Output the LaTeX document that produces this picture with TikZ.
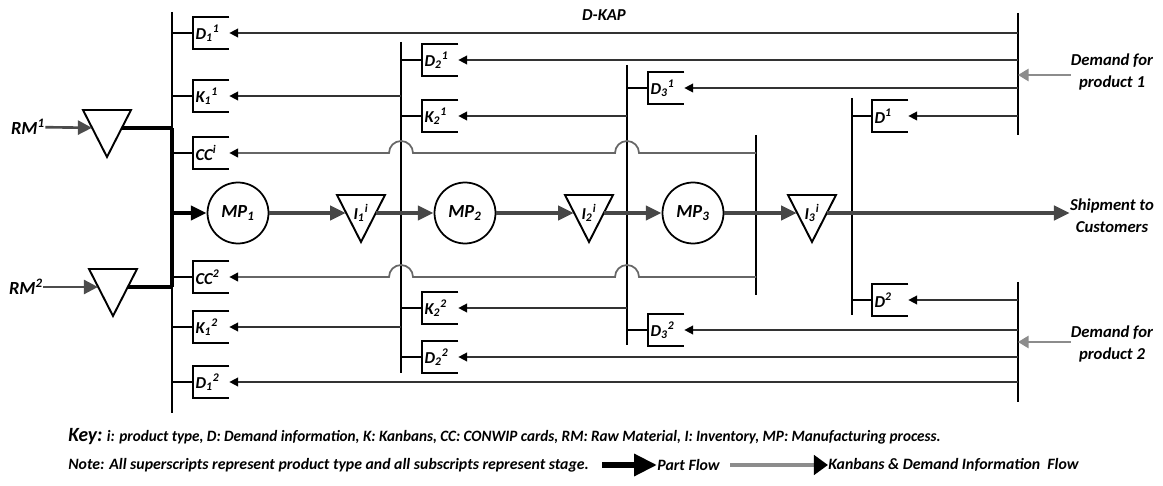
\documentclass[tikz,border=0pt]{standalone}
\usepackage{fontspec}
\usepackage{graphicx}
\setmainfont{Carlito}
\usetikzlibrary{arrows.meta,calc}

\newcommand{\lb}[3]{#1\textsubscript{#2}\textsuperscript{#3}}

\begin{document}
\begin{tikzpicture}[x=0.02cm,y=-0.02cm,
    every node/.style={font=\fontsize{9.5}{12.5}\selectfont\bfseries\itshape,inner sep=0pt},
    card/.style={minimum height=0.64cm,text width=0.62cm,inner xsep=0.05cm,align=left,font=\fontsize{9.5}{10}\selectfont\bfseries\itshape},
    cardline/.style={line width=1.1pt},
    proc/.style={draw,circle,minimum size=1.22cm,line width=1pt,font=\fontsize{10.5}{11}\selectfont\bfseries\itshape},
    tri/.style={minimum width=0.59cm,minimum height=0.4cm,font=\fontsize{9.5}{10}\selectfont\bfseries\itshape},
    trishape/.style={line width=1.1pt,line join=miter},
    bus/.style={line width=1pt},
    thickbus/.style={line width=2pt},
    info/.style={line width=0.8pt,black!80,-{Triangle[length=5pt,width=5pt,color=black]}},
    ccinfo/.style={line width=1pt,black!60,-{Triangle[length=5pt,width=5pt,color=black]}},
    grayarr/.style={line width=1pt,black!45,-{Triangle[length=6pt,width=7pt]}},
    rmarr/.style={line width=1.5pt,black!70,-{Triangle[length=8pt,width=8pt]}},
    part/.style={line width=2.3pt,black!72,-{Triangle[length=9pt,width=8pt]}},
    partblk/.style={line width=2.3pt,black,-{Triangle[length=9pt,width=8pt]}},
    legpart/.style={line width=3.2pt,black,-{Triangle[length=13pt,width=12pt]}},
    legkan/.style={line width=2pt,black!45,-{Triangle[length=8pt,width=11pt,color=black]}},
    keytext/.style={font=\fontsize{9}{10}\selectfont\bfseries\itshape}]
    \useasboundingbox (0,0) rectangle (1163,486);

    % buses
    \coordinate (b1t) at (172,12);   \coordinate (b1b) at (172,413);
    \coordinate (b2t) at (401,42);   \coordinate (b2b) at (401,373);
    \coordinate (b3t) at (627,65);   \coordinate (b3b) at (627,345);
    \coordinate (b4t) at (852,98);   \coordinate (b4b) at (852,315);
    \coordinate (ccbt) at (756,135); \coordinate (ccbb) at (756,295);
    \coordinate (rb1t) at (1018,13); \coordinate (rb1b) at (1018,135);
    \coordinate (rb2t) at (1018,282);\coordinate (rb2b) at (1018,402);
    \coordinate (j1) at (172,128);   \coordinate (j2) at (172,287);
    \foreach \s in {b1,b2,b3,b4,ccb,rb1,rb2}
        \draw[bus] (\s t) -- (\s b);
    \draw[thickbus] (j1) -- (j2);

    % raw material
    \node[font=\fontsize{10.5}{11}\selectfont\bfseries\itshape] (rm1) at (28,127) {RM\textsuperscript{1}};
    \node[font=\fontsize{10.5}{11}\selectfont\bfseries\itshape] (rm2) at (26,287) {RM\textsuperscript{2}};
    \node[tri] (rm1t) at (107,128) {};
    \node[tri] (rm2t) at (113,287) {};

    % cards
    \node[card] (d11) at (211,33) {\lb{D}{1}{1}};
    \node[card] (k11) at (211,96) {\lb{K}{1}{1}};
    \node[card] (cc1) at (211,153) {CC\textsuperscript{i}};
    \node[card] (cc2) at (211,277) {CC\textsuperscript{2}};
    \node[card] (k12) at (211,327) {\lb{K}{1}{2}};
    \node[card] (d12) at (211,382) {\lb{D}{1}{2}};
    \node[card] (d21) at (440,60) {\lb{D}{2}{1}};
    \node[card] (k21) at (440,116) {\lb{K}{2}{1}};
    \node[card] (k22) at (440,308) {\lb{K}{2}{2}};
    \node[card] (d22) at (440,357) {\lb{D}{2}{2}};
    \node[card] (d31) at (666,88) {\lb{D}{3}{1}};
    \node[card] (d32) at (666,330) {\lb{D}{3}{2}};
    \node[card] (d41) at (890,116) {D\textsuperscript{1}};
    \node[card] (d42) at (890,300) {D\textsuperscript{2}};
    \foreach \c in {d11,k11,cc1,cc2,k12,d12,d21,k21,k22,d22,d31,d32,d41,d42}
        \draw[cardline] (\c.north east) -- (\c.north west) -- (\c.south west) -- (\c.south east);
    \foreach \c/\s in {d11/b1t,k11/b1t,cc1/b1t,cc2/b1t,k12/b1t,d12/b1t,d21/b2t,k21/b2t,k22/b2t,d22/b2t,d31/b3t,d32/b3t,d41/b4t,d42/b4t}
        \draw[bus] (\c.west -| \s) -- (\c.west);

    % process line
    \node[proc] (mp1) at (238,213) {MP\textsubscript{1}};
    \node[proc] (mp2) at (465,213) {MP\textsubscript{2}};
    \node[proc] (mp3) at (693,213) {MP\textsubscript{3}};
    \node[tri] (i1) at (361,213) {\lb{I}{1}{i}};
    \node[tri] (i2) at (589,213) {\lb{I}{2}{i}};
    \node[tri] (i3) at (812,213) {\lb{I}{3}{i}};
    \foreach \t in {rm1t,rm2t,i1,i2,i3}
        \draw[trishape] (\t) ++(-24,-18) -- ++(48,0) -- ++(-24,47) -- cycle;

    % texts
    \node (dkap) at (604,15) {D-KAP};
    \node[align=center] (ship) at (1112,216) {Shipment to\\Customers};
    \node[align=center] (dem1) at (1112,72) {Demand for\\product 1};
    \node[align=center] (dem2) at (1112,344) {Demand for\\product 2};

    % part flow
    \draw[rmarr] (rm1) -- (rm1t);
    \draw[rmarr] (rm2) -- (rm2t);
    \draw[thickbus] (rm1t.east) -- (j1);
    \draw[thickbus] (rm2t.east) -- (j2);
    \draw[partblk] (j1 |- mp1) -- (mp1);
    \draw[part] (mp1) -- (i1);
    \draw[part] (i1) -- (mp2);
    \draw[part] (mp2) -- (i2);
    \draw[part] (i2) -- (mp3);
    \draw[part] (mp3) -- (i3);
    \draw[part] (i3.east) -- (i3.east -| ship.west);

    % kanbans and demand information
    \foreach \c/\s in {d11/rb1t,d21/rb1t,d31/rb1t,d41/rb1t,k11/b2t,k21/b3t,k12/b2t,k22/b3t,d12/rb2t,d22/rb2t,d32/rb2t,d42/rb2t}
        \draw[info] (\c.east -| \s) -- (\c.east);
    \foreach \c in {cc1,cc2}
        \draw[ccinfo] (\c.east -| ccbt) -- ($(\c.east -| b3t)+(12,0)$)
            arc[start angle=0,end angle=-180,radius=12]
            -- ($(\c.east -| b2t)+(12,0)$)
            arc[start angle=0,end angle=-180,radius=12] -- (\c.east);
    \draw[grayarr] (dem1.west |- 0,75) -- (rb1t |- 0,75);
    \draw[grayarr] (dem2.west |- 0,342) -- (rb2t |- 0,342);

    % key
    \node[keytext,anchor=west] (key) at (68,437) {\scalebox{0.96}[1]{{\fontsize{11.5}{12}\selectfont Key:} i: product type, D: Demand information, K: Kanbans, CC: CONWIP cards, RM: Raw Material, I: Inventory, MP: Manufacturing process.}};
    \node[keytext,anchor=west] (note) at (68,465) {Note: All superscripts represent product type and all subscripts represent stage.};
    \coordinate (pf0) at (602,465);
    \node[keytext,anchor=west] (pflow) at (657,465) {Part Flow};
    \draw[legpart] (pf0) -- (pflow.west);
    \coordinate (kf0) at (730,465);
    \node[keytext,anchor=west] (kflow) at (828,465) {Kanbans \& Demand Information\ \ Flow};
    \draw[legkan] (kf0) -- (kflow.west);
\end{tikzpicture}
\end{document}
